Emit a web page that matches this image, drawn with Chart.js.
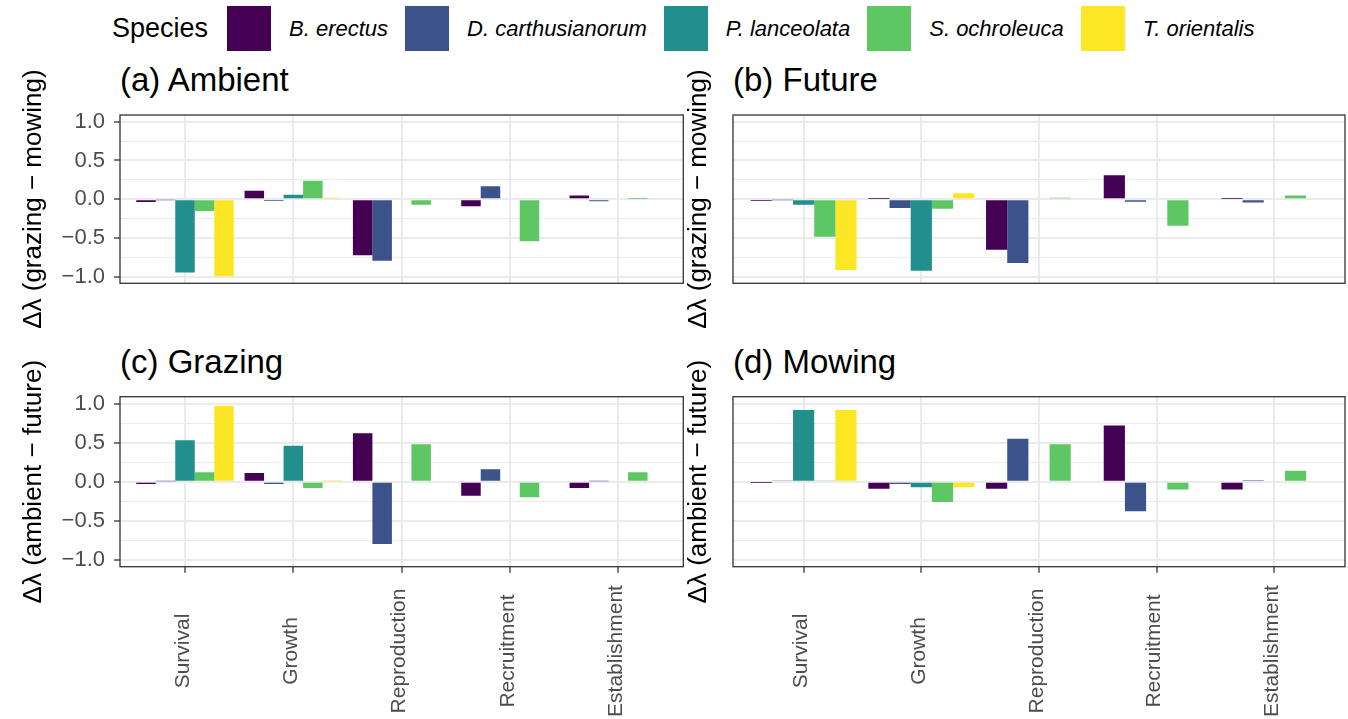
<!DOCTYPE html>
<html>
<head>
<meta charset="utf-8">
<script src="https://cdn.jsdelivr.net/npm/chart.js@4.4.1/dist/chart.umd.min.js"></script>
<style>
  html, body { margin: 0; padding: 0; background: #fff; }
  body { width: 1348px; height: 719px; position: relative; overflow: hidden; font-family: "Liberation Sans", Arial, sans-serif; }
  canvas { position: absolute; left: 0; top: 0; }
  .legend { position: absolute; left: 112px; top: 6px; height: 45px; display: flex; align-items: center; white-space: nowrap; }
  .legend-title { font-size: 27px; margin-right: 19px; }
  .key { width: 44px; height: 45px; margin-right: 18px; }
  .key-label { font-size: 22px; font-style: italic; margin-right: 17px; }
  .ptitle { position: absolute; font-size: 33px; line-height: 33px; color: #000; white-space: nowrap; }
</style>
</head>
<body>
<div class="legend" id="legend"><span class="legend-title">Species</span></div>
<div class="ptitle" style="left:120px; top:63px;">(a) Ambient</div>
<div class="ptitle" style="left:733px; top:63px;">(b) Future</div>
<div class="ptitle" style="left:120px; top:345px;">(c) Grazing</div>
<div class="ptitle" style="left:733px; top:345px;">(d) Mowing</div>
<canvas id="chartA" width="1348" height="719"></canvas>
<canvas id="chartB" width="1348" height="719"></canvas>
<canvas id="chartC" width="1348" height="719"></canvas>
<canvas id="chartD" width="1348" height="719"></canvas>
<script>
// ===== DATA =====
const stages = ['Survival', 'Growth', 'Reproduction', 'Recruitment', 'Establishment'];
const species = ['B. erectus', 'D. carthusianorum', 'P. lanceolata', 'S. ochroleuca', 'T. orientalis'];
const speciesColors = ['#440154', '#3B528B', '#21908C', '#5DC863', '#FDE725'];
const yTicks = [-1, -0.75, -0.5, -0.25, 0, 0.25, 0.5, 0.75, 1];
const yTickLabels = ['\u22121.0', '', '\u22120.5', '', '0.0', '', '0.5', '', '1.0'];

// one row per species, one value per stage
const ambient = [
    [-0.035, 0.11, -0.72, -0.09, 0.05],
    [-0.005, -0.02, -0.79, 0.17, -0.025],
    [-0.94, 0.06, 0, 0, 0],
    [-0.15, 0.24, -0.07, -0.54, 0.005],
    [-0.99, 0.02, 0, 0, 0]
];
const future = [
    [-0.02, 0.005, -0.65, 0.31, 0.005],
    [-0.005, -0.11, -0.82, -0.03, -0.04],
    [-0.07, -0.92, 0, 0, 0],
    [-0.48, -0.12, 0.02, -0.34, 0.05],
    [-0.91, 0.08, 0, 0, 0]
];
const grazing = [
    [-0.03, 0.11, 0.62, -0.18, -0.08],
    [0.005, -0.03, -0.80, 0.16, 0.005],
    [0.53, 0.46, 0, 0, 0],
    [0.12, -0.08, 0.48, -0.20, 0.12],
    [0.97, 0.02, 0, 0, 0]
];
const mowing = [
    [-0.005, -0.09, -0.09, 0.72, -0.10],
    [0.01, -0.03, 0.55, -0.38, 0.02],
    [0.92, -0.07, 0, 0, 0],
    [0.01, -0.26, 0.48, -0.10, 0.14],
    [0.92, -0.07, 0, 0, 0]
];

const topTitle = '\u0394\u03bb (grazing \u2212 mowing)';
const bottomTitle = '\u0394\u03bb (ambient \u2212 future)';

// ===== CHARTS =====
const FONT = '"Liberation Sans", Arial, sans-serif';
Chart.defaults.font.family = FONT;

function isMajor(v) { return Math.abs(v * 2 - Math.round(v * 2)) < 1e-9; }

function panelDecor(showStages) {
    return {
        id: 'panelDecor',
        afterDraw(chart) {
            const { ctx, chartArea: a, scales: { x } } = chart;
            ctx.save();
            ctx.strokeStyle = '#333333';
            ctx.lineWidth = 1.3;
            ctx.strokeRect(a.left, a.top, a.right - a.left, a.bottom - a.top);
            if (showStages) {
                ctx.font = '21px ' + FONT;
                ctx.fillStyle = '#4D4D4D';
                ctx.textAlign = 'center';
                ctx.textBaseline = 'middle';
                stages.forEach((s, j) => {
                    ctx.save();
                    ctx.translate(x.getPixelForValue(j + 1) - 2, 651);
                    ctx.rotate(-Math.PI / 2);
                    ctx.fillText(s, 0, 0);
                    ctx.restore();
                });
            }
            ctx.restore();
        }
    };
}

function makePanel(id, values, o) {
    const datasets = species.map((name, i) => ({
        label: name,
        data: stages.map((s, j) => ({ x: j + 1, y: values[i][j] })),
        backgroundColor: speciesColors[i],
        borderWidth: 0,
        categoryPercentage: 0.9,
        barPercentage: 1.0
    }));
    return new Chart(document.getElementById(id), {
        type: 'bar',
        data: { datasets },
        options: {
            responsive: false,
            animation: false,
            events: [],
            layout: { padding: o.padding },
            plugins: { legend: { display: false }, tooltip: { enabled: false } },
            scales: {
                x: {
                    type: 'linear', min: 0.4, max: 5.6, offset: false,
                    afterBuildTicks: s => { s.ticks = stages.map((_, j) => ({ value: j + 1 })); },
                    afterFit: s => { s.height = 0; },
                    ticks: { display: false },
                    border: { display: false },
                    grid: { offset: false, color: '#EBEBEB', lineWidth: 2, drawTicks: o.xTicks, tickLength: 6, tickColor: '#333333', tickWidth: 1.3 }
                },
                y: {
                    min: o.yMin, max: o.yMax,
                    afterBuildTicks: s => { s.ticks = yTicks.map(v => ({ value: v })); },
                    afterFit: s => { s.width = o.axisWidth; },
                    ticks: {
                        display: o.yLabels, autoSkip: false, padding: 9, color: '#4D4D4D', font: { size: 22 },
                        callback: v => yTickLabels[yTicks.indexOf(v)]
                    },
                    border: { display: false },
                    grid: {
                        color: '#EBEBEB',
                        lineWidth: c => isMajor(c.tick.value) ? 2 : 1,
                        drawTicks: o.yLabels, tickLength: 6, tickWidth: 1.3,
                        tickColor: c => isMajor(c.tick.value) ? '#333333' : 'rgba(0,0,0,0)'
                    },
                    title: { display: true, text: o.yTitle, color: '#000', font: { size: 26 }, padding: 0 }
                }
            }
        },
        plugins: [panelDecor(o.xTicks)]
    });
}

makePanel('chartA', ambient, { padding: { left: 18, top: 115, right: 664.7, bottom: 435.7 }, axisWidth: 102, yLabels: true, xTicks: false, yMin: -1.08, yMax: 1.085, yTitle: topTitle });
makePanel('chartB', future, { padding: { left: 683.4, top: 115, right: 3, bottom: 435.7 }, axisWidth: 49.6, yLabels: false, xTicks: false, yMin: -1.08, yMax: 1.085, yTitle: topTitle });
makePanel('chartC', grazing, { padding: { left: 18, top: 396.7, right: 664.7, bottom: 152.3 }, axisWidth: 102, yLabels: true, xTicks: true, yMin: -1.09, yMax: 1.09, yTitle: bottomTitle });
makePanel('chartD', mowing, { padding: { left: 683.4, top: 396.7, right: 3, bottom: 152.3 }, axisWidth: 49.6, yLabels: false, xTicks: true, yMin: -1.09, yMax: 1.09, yTitle: bottomTitle });

// ===== LEGEND =====
const legend = document.getElementById('legend');
species.forEach((name, i) => {
    const key = document.createElement('div');
    key.className = 'key';
    key.style.background = speciesColors[i];
    const label = document.createElement('span');
    label.className = 'key-label';
    label.textContent = name;
    legend.appendChild(key);
    legend.appendChild(label);
});
</script>
</body>
</html>
